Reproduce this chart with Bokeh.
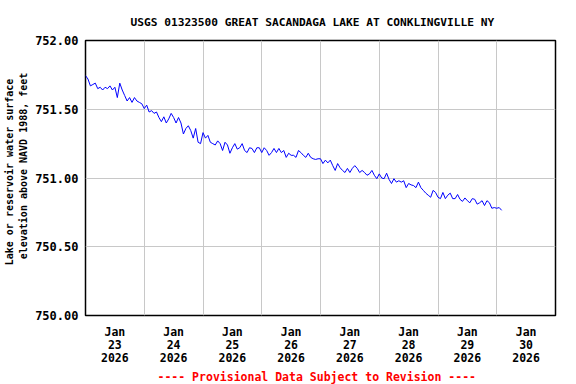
import pandas as pd
from bokeh.plotting import figure
from bokeh.models import (Range1d, FixedTicker, LinearAxis, Grid, Title,
                          ColumnDataSource, NumeralTickFormatter)
from bokeh.embed import file_html
from bokeh.resources import INLINE

# ---------------- data ----------------
TITLE = "USGS 01323500 GREAT SACANDAGA LAKE AT CONKLINGVILLE NY"
Y_LABEL_1 = "Lake or reservoir water surface"
Y_LABEL_2 = "elevation above NAVD 1988, feet"
FOOTER = "---- Provisional Data Subject to Revision ----"

START = "2026-01-23 00:00"
END = "2026-01-31 00:00"
DAYS = ["23", "24", "25", "26", "27", "28", "29", "30"]
MONTH = "Jan"
YEAR = "2026"
Y_TICKS = [750.0, 750.5, 751.0, 751.5, 752.0]

# hourly lake elevation (ft)
elev_jan23 = [751.745, 751.72, 751.67, 751.68, 751.69, 751.65, 751.66, 751.64,
              751.66, 751.65, 751.67, 751.64, 751.66, 751.585, 751.69, 751.64,
              751.60, 751.56, 751.585, 751.55, 751.585, 751.56, 751.55, 751.54]
elev_jan24 = [751.505, 751.53, 751.48, 751.49, 751.47, 751.48, 751.44, 751.41,
              751.445, 751.40, 751.43, 751.47, 751.44, 751.40, 751.44, 751.40,
              751.32, 751.36, 751.38, 751.345, 751.29, 751.36, 751.26, 751.25]
elev_jan25 = [751.33, 751.29, 751.31, 751.26, 751.25, 751.24, 751.27, 751.25,
              751.20, 751.26, 751.24, 751.18, 751.22, 751.25, 751.21, 751.22,
              751.25, 751.20, 751.185, 751.22, 751.215, 751.185, 751.22, 751.22]
elev_jan26 = [751.185, 751.22, 751.20, 751.165, 751.185, 751.215, 751.185, 751.215,
              751.185, 751.20, 751.15, 751.18, 751.165, 751.165, 751.15, 751.20,
              751.185, 751.165, 751.15, 751.18, 751.15, 751.14, 751.135, 751.14]
elev_jan27 = [751.14, 751.105, 751.13, 751.11, 751.13, 751.09, 751.055, 751.105,
              751.075, 751.055, 751.04, 751.07, 751.04, 751.07, 751.09, 751.07,
              751.04, 751.055, 751.04, 751.02, 751.03, 751.055, 751.02, 750.995]
elev_jan28 = [751.03, 751.00, 750.995, 751.035, 750.99, 750.96, 750.995, 750.97,
              750.98, 750.97, 750.98, 750.93, 750.96, 750.95, 750.945, 750.93,
              750.97, 750.93, 750.91, 750.89, 750.875, 750.86, 750.91, 750.895]
elev_jan29 = [750.86, 750.85, 750.895, 750.85, 750.875, 750.89, 750.85, 750.85,
              750.88, 750.845, 750.83, 750.855, 750.835, 750.82, 750.85, 750.845,
              750.81, 750.82, 750.835, 750.80, 750.835, 750.82, 750.78, 750.785]
elev_jan30 = [750.78, 750.785, 750.765]

elev = (elev_jan23 + elev_jan24 + elev_jan25 + elev_jan26 +
        elev_jan27 + elev_jan28 + elev_jan29 + elev_jan30)
times = pd.date_range(START, periods=len(elev), freq="h")
source = ColumnDataSource(data=dict(t=times, elev=elev))

# ---------------- helpers ----------------
def ms(ts):
    return int(pd.Timestamp(ts).value // 10**6)

DAY_MS = 86400000
x0, x1 = ms(START), ms(END)
midnights = [x0 + i * DAY_MS for i in range(len(DAYS) + 1)]
noons = [x0 + i * DAY_MS + DAY_MS // 2 for i in range(len(DAYS))]
overrides = {n: f"{MONTH}\n{d}\n{YEAR}" for n, d in zip(noons, DAYS)}

FONT = "DejaVu Sans Mono"
GRID = "#c8c8c8"
NB = "\u00a0"

p = figure(width=576, height=384, output_backend="svg", toolbar_location=None,
           x_range=Range1d(x0, x1), y_range=Range1d(750.0, 752.0),
           x_axis_type=None, y_axis_type=None,
           min_border_left=85, min_border_right=21,
           min_border_top=40, min_border_bottom=69)
p.outline_line_color = "black"
p.outline_line_width = 1.5
p.background_fill_color = "white"
p.border_fill_color = "white"

p.add_layout(Grid(dimension=0, ticker=FixedTicker(ticks=midnights),
                  grid_line_color=GRID, grid_line_width=1))
p.add_layout(Grid(dimension=1, ticker=FixedTicker(ticks=Y_TICKS),
                  grid_line_color=GRID, grid_line_width=1))

xaxis = LinearAxis(ticker=FixedTicker(ticks=noons), major_label_overrides=overrides,
                   axis_line_color=None, major_tick_in=0, major_tick_out=0,
                   minor_tick_in=0, minor_tick_out=0, major_label_standoff=9,
                   major_label_text_font=FONT, major_label_text_font_style="bold",
                   major_label_text_font_size="11.5px", major_label_text_color="black",
                   major_label_text_line_height=0.94)
p.add_layout(xaxis, "below")

y_label = NB * 2 + Y_LABEL_1 + "\n" + NB * 4 + Y_LABEL_2
yaxis = LinearAxis(ticker=FixedTicker(ticks=Y_TICKS),
                   formatter=NumeralTickFormatter(format="0.00"),
                   axis_line_color=None, major_tick_in=0, major_tick_out=0,
                   minor_tick_in=0, minor_tick_out=0, major_label_standoff=7,
                   major_label_text_font=FONT, major_label_text_font_style="bold",
                   major_label_text_font_size="12px", major_label_text_color="black",
                   axis_label=y_label, axis_label_standoff=3,
                   axis_label_text_font=FONT, axis_label_text_font_style="bold",
                   axis_label_text_font_size="10px", axis_label_text_color="black",
                   axis_label_text_line_height=1.3)
p.add_layout(yaxis, "left")

p.line("t", "elev", source=source, line_color="#0000ff", line_width=1)

p.add_layout(Title(text=TITLE, align="left", offset=45, standoff=24,
                   text_font=FONT, text_font_style="bold",
                   text_font_size="11.2px", text_color="black"), "above")
p.add_layout(Title(text=FOOTER, align="left", offset=72, standoff=1,
                   text_font=FONT, text_font_style="bold",
                   text_font_size="11.5px", text_color="#ff0000"), "below")

open("out.html", "w").write(file_html(p, INLINE))
